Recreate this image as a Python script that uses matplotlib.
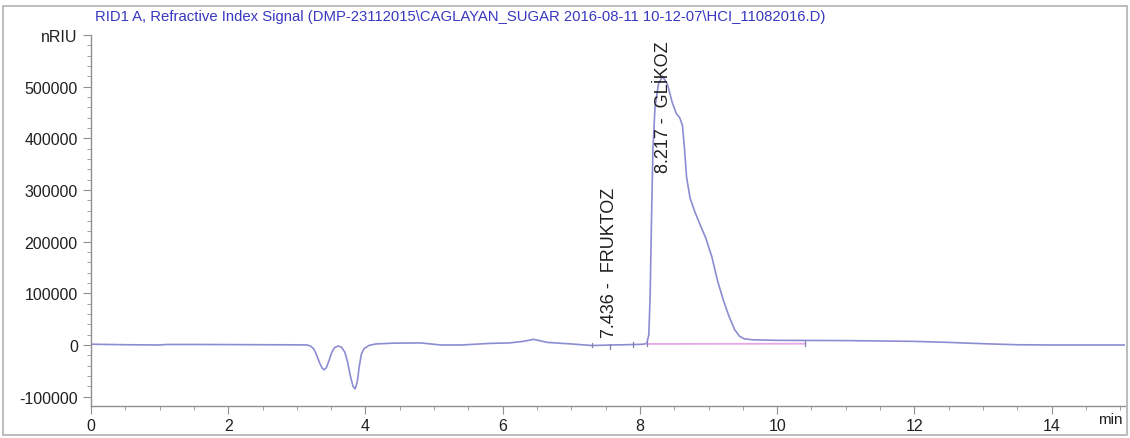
import matplotlib
matplotlib.use("Agg")
import matplotlib.pyplot as plt
from matplotlib.patches import Rectangle
from matplotlib.ticker import MultipleLocator
import matplotlib.transforms as mtransforms

plt.rcParams['font.family'] = ['Liberation Sans', 'DejaVu Sans']

# Kromatogram verisi (dakika, nRIU)
time_min = [0.0, 0.5, 1.0, 1.1, 1.5, 2.0, 2.5, 3.0, 3.15, 3.20, 3.25, 3.29, 3.33,
            3.37, 3.40, 3.43, 3.47, 3.51, 3.55, 3.60, 3.65, 3.70, 3.74, 3.78, 3.82,
            3.85, 3.88, 3.91, 3.94, 3.98, 4.05, 4.15, 4.4, 4.8, 5.1, 5.4, 5.8, 6.1,
            6.3, 6.45, 6.65, 7.0, 7.3, 7.6, 7.95, 8.05, 8.10, 8.13, 8.15, 8.17, 8.19,
            8.22, 8.27, 8.33, 8.40, 8.47, 8.53, 8.58, 8.62, 8.65, 8.68, 8.73, 8.80,
            8.88, 8.96, 9.05, 9.13, 9.22, 9.30, 9.38, 9.45, 9.52, 9.65, 10.0, 11.0,
            12.0, 12.5, 13.0, 13.5, 14.0, 15.07]
signal = [1500, 500, 0, 1000, 1000, 800, 500, 300, 0, -2000, -8000, -20000, -34000,
          -45000, -48000, -44000, -30000, -14000, -5000, -2000, -4000, -14000, -33000, -60000, -80000,
          -85000, -72000, -42000, -18000, -7000, -1000, 2000, 3500, 4000, 0, 0, 3000, 4000,
          7000, 11000, 5000, 2000, -1000, 0, 1000, 1500, 3000, 20000, 100000, 250000, 380000,
          460000, 505000, 520000, 505000, 470000, 448000, 440000, 425000, 380000, 325000, 285000, 258000,
          232000, 207000, 170000, 125000, 85000, 55000, 30000, 17000, 12000, 10000, 9000, 8500,
          7000, 5000, 2500, 500, 0, 0]

# Pik etiketleri
peak_rt = [7.436, 8.217]
peak_names = ['FRUKTOZ', 'GLİKOZ']
label_base = [15000, 335000]

# Entegrasyon taban cizgisi ve isaretler
base_t = [8.10, 10.41]
base_y = [2000, 2500]
marks_t = [7.30, 7.57, 7.90, 8.10, 10.41]
marks_y = [0, -3000, 500, 2000, 2500]

fig = plt.figure(figsize=(11.3, 4.39), dpi=100)
ax = fig.add_axes([0.0805, 0.073, 0.9151, 0.845])

line_color = '#8c8cd2'
ax.plot(time_min, signal, color=line_color, lw=1.2)
ax.plot(base_t, base_y, color='#e6a8e6', lw=1.3)
for t, y in zip(marks_t, marks_y):
    ax.plot([t, t], [y - 4500, y + 4500], color='#8080b0', lw=0.9)

for rt, name, yb in zip(peak_rt, peak_names, label_base):
    ax.text(rt, yb, f'{rt:.3f} -  {name}', rotation=90, ha='left', va='bottom',
            fontsize=13, color='#202020')

ax.set_xlim(0, 15.07)
ax.set_ylim(-118000, 600000)
ax.xaxis.set_major_locator(MultipleLocator(2))
ax.xaxis.set_minor_locator(MultipleLocator(0.5))
ax.yaxis.set_major_locator(MultipleLocator(100000))
ax.yaxis.set_minor_locator(MultipleLocator(20000))

xt = [0, 2, 4, 6, 8, 10, 12, 14]
ax.set_xticks(xt)
ax.set_xticklabels([str(v) for v in xt])
yt = [-100000, 0, 100000, 200000, 300000, 400000, 500000, 600000]
ax.set_yticks(yt)
ax.set_yticklabels([str(v) for v in yt[:-1]] + ['nRIU'])

for s in ['top', 'right']:
    ax.spines[s].set_visible(False)
for s in ['left', 'bottom']:
    ax.spines[s].set_color('#909090')
    ax.spines[s].set_linewidth(1.0)

ax.tick_params(which='major', length=6, color='#909090', labelsize=11.5, labelcolor='#202020')
ax.tick_params(which='minor', length=3, color='#909090')
ax.tick_params(axis='x', pad=3)

# "min" birimi
trans = mtransforms.blended_transform_factory(ax.transData, ax.transAxes)
ax.text(14.86, -0.015, 'min', transform=trans, ha='center', va='top', fontsize=11, color='#202020')

fig.text(95 / 1130, 1 - 17 / 439,
         'RID1 A, Refractive Index Signal (DMP-23112015\\CAGLAYAN_SUGAR 2016-08-11 10-12-07\\HCI_11082016.D)',
         ha='left', va='center', fontsize=10.7, color='#3838c0')

fig.patches.append(Rectangle((3 / 1130, 3 / 439), 1 - 6 / 1130, 1 - 10 / 439,
                             transform=fig.transFigure, fill=False, edgecolor='#b0b0b0', lw=1.2))

fig.savefig('out.png', dpi=100)
